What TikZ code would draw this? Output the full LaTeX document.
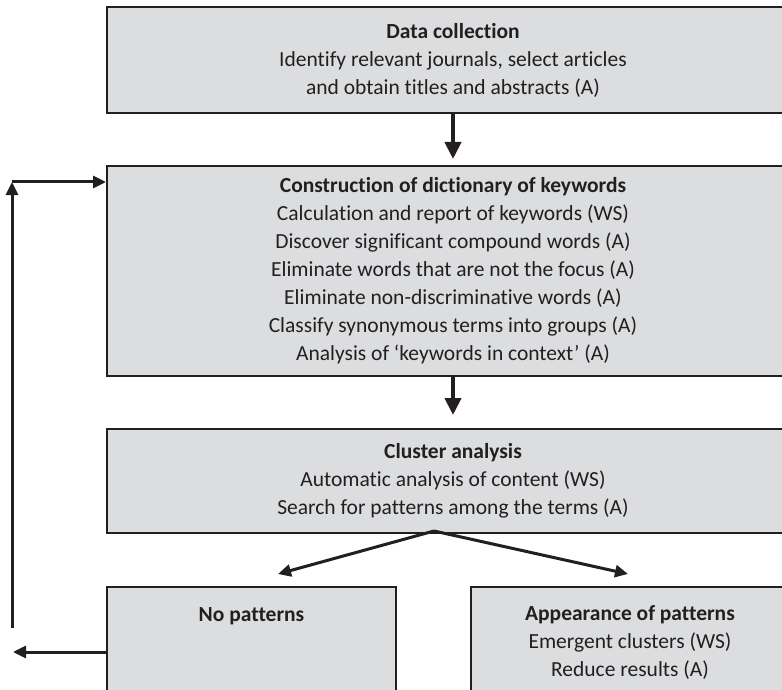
\documentclass[tikz,border=0pt]{standalone}
\usepackage{fontspec}
\setmainfont{Carlito}[Ligatures=NoCommon]
\usetikzlibrary{arrows.meta}
\definecolor{boxfill}{HTML}{DCDDDE}
\definecolor{ink}{HTML}{231F20}
\begin{document}
\begin{tikzpicture}[x=1pt,y=-1pt,
  box/.style={draw=ink, line width=2pt, fill=boxfill, text=ink, align=center, inner sep=0pt,
    font=\fontsize{21.5}{28}\selectfont},
  mainarrow/.style={draw=ink, line width=4pt, -{Triangle[length=17pt,width=16pt]}},
  thinarrow/.style={draw=ink, line width=3pt, -{Triangle[length=13pt,width=12pt]}}]
\clip (0,0) rectangle (782,690);
\node[box, minimum width=692pt, minimum height=106pt] (b1) at (453,60)
  {\textbf{Data collection}\\Identify relevant journals, select articles\\and obtain titles and abstracts (A)};
\node[box, minimum width=692pt, minimum height=210pt] (b2) at (453,271)
  {\textbf{Construction of dictionary of keywords}\\
   Calculation and report of keywords (WS)\\
   Discover significant compound words (A)\\
   Eliminate words that are not the focus (A)\\
   Eliminate non-discriminative words (A)\\
   Classify synonymous terms into groups (A)\\
   Analysis of ‘keywords in context’ (A)};
\node[box, minimum width=692pt, minimum height=104pt] (b3) at (453,481)
  {\textbf{Cluster analysis}\\Automatic analysis of content (WS)\\Search for patterns among the terms (A)};
\node[box, minimum width=289pt, minimum height=112pt] (b4) at (251.5,643)
  {\textbf{No patterns}\\\mbox{}\\\mbox{}};
\node[box, minimum width=318pt, minimum height=112pt] (b5) at (630,643)
  {\textbf{Appearance of patterns}\\Emergent clusters (WS)\\Reduce results (A)};
\draw[mainarrow, shorten >=6pt] (b1) -- (b2);
\draw[mainarrow, shorten >=13pt] (b2) -- (b3);
\coordinate (apex) at (434,531);
\coordinate (tipL) at (278,574);
\coordinate (tipR) at (628,574);
\draw[thinarrow] (apex) -- (tipL);
\draw[thinarrow] (apex) -- (tipR);
\coordinate (fbtop) at (12,182);
\coordinate (fbbot) at (12,628);
\coordinate (outL) at (13,652);
\draw[thinarrow] (fbbot) -- (fbtop);
\draw[thinarrow] (fbtop) -- (b2.west |- fbtop);
\draw[thinarrow] (b4.west |- outL) -- (outL);
\end{tikzpicture}
\end{document}
